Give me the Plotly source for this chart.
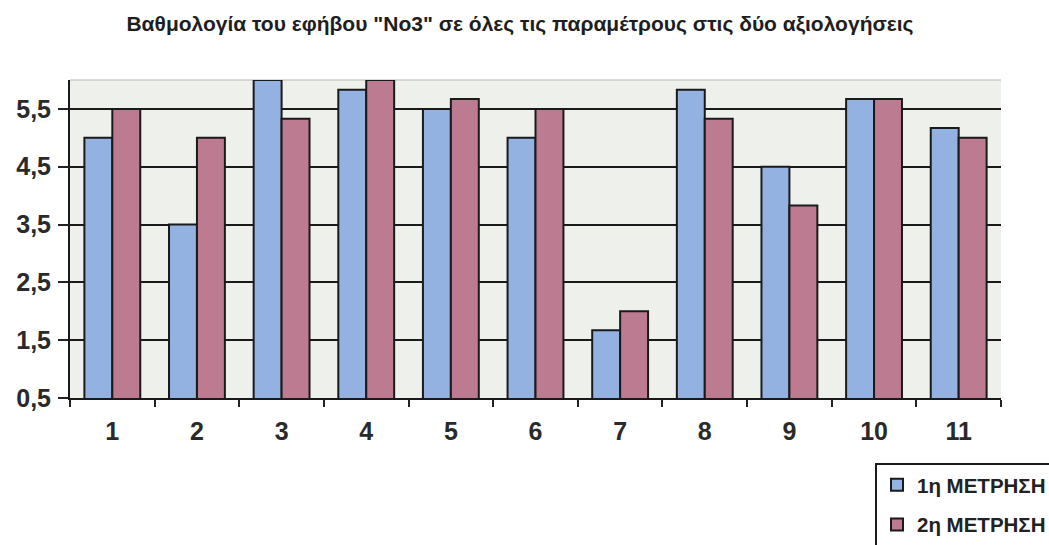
import plotly.graph_objects as go

# Parameters 1..11 and the scores from the two assessments
categories = ["1", "2", "3", "4", "5", "6", "7", "8", "9", "10", "11"]
first_measure = [5.0, 3.5, 6.0, 5.83, 5.5, 5.0, 1.67, 5.83, 4.5, 5.67, 5.17]
second_measure = [5.5, 5.0, 5.33, 6.0, 5.67, 5.5, 2.0, 5.33, 3.83, 5.67, 5.0]
y_ticks = [0.5, 1.5, 2.5, 3.5, 4.5, 5.5]

series_names = ["1η ΜΕΤΡΗΣΗ", "2η ΜΕΤΡΗΣΗ"]
title_text = 'Βαθμολογία του εφήβου "Νο3" σε όλες τις παραμέτρους στις δύο αξιολογήσεις'

sans = "Liberation Sans, Arial, sans-serif"

fig = go.Figure()
fig.add_trace(go.Bar(
    x=categories, y=first_measure, name=series_names[0], legendgroup="a",
    marker=dict(color="#93b2e2", line=dict(color="#1a1a1a", width=2)),
))
fig.add_trace(go.Bar(
    x=categories, y=second_measure, name=series_names[1], legendgroup="b",
    marker=dict(color="#bd7b92", line=dict(color="#1a1a1a", width=2)),
))

fig.update_layout(
    width=1049, height=545,
    margin=dict(l=70, r=48, t=80, b=147, autoexpand=False),
    paper_bgcolor="white",
    plot_bgcolor="#eef0ec",
    barmode="group",
    bargap=0.34,
    bargroupgap=0,
    separators=", ",
    title=dict(
        text=title_text,
        x=520 / 1049, xanchor="center", xref="container",
        y=1 - 24 / 545, yanchor="middle", yref="container",
        font=dict(family=sans, size=21, color="#1e1e1e", weight="bold"),
    ),
    legend=dict(
        x=(875 - 70) / 931, xanchor="left",
        y=(398 - 463) / 318, yanchor="top",
        bgcolor="white", bordercolor="#1a1a1a", borderwidth=2,
        font=dict(family=sans, size=20.5, color="#222", weight="bold"),
        tracegroupgap=10,
        itemwidth=30,
        entrywidth=220,
    ),
    xaxis=dict(
        type="category",
        tickson="boundaries",
        ticks="outside", ticklen=7, tickwidth=2, tickcolor="#222",
        showline=True, linecolor="#1a1a1a", linewidth=2,
        showgrid=False,
        tickfont=dict(family=sans, size=25, color="#2a2a2a", weight="bold"),
        ticklabelstandoff=10,
    ),
    yaxis=dict(
        range=[0.5, 6.0],
        tickvals=y_ticks,
        tickformat=".1f",
        ticks="outside", ticklen=10, tickwidth=2, tickcolor="#222",
        showline=True, linecolor="#1a1a1a", linewidth=2,
        showgrid=True, gridcolor="#1a1a1a", gridwidth=2,
        zeroline=False,
        tickfont=dict(family=sans, size=25, color="#2a2a2a", weight="bold"),
        ticklabelstandoff=2,
    ),
)

# thin grey top border of the plotting area
fig.add_shape(type="line", xref="paper", yref="paper", x0=0, x1=1, y0=1, y1=1,
              line=dict(color="#b8b8b8", width=1), layer="below")

fig.write_html("out.html")
